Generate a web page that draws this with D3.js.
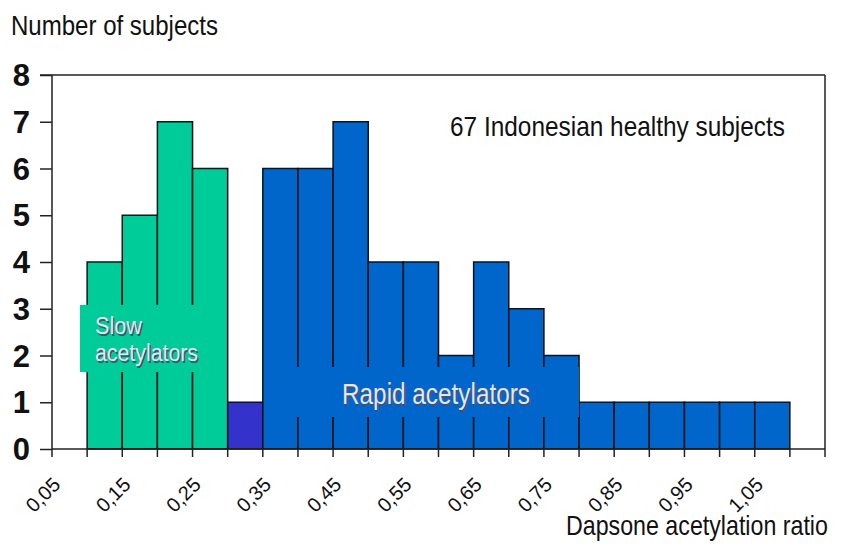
<!DOCTYPE html>
<html>
<head>
<meta charset="utf-8">
<script src="https://cdn.jsdelivr.net/npm/d3@7"></script>
<style>
  html, body { margin: 0; padding: 0; background: #fff; }
  svg { display: block; }
  text { font-family: "Liberation Sans", Arial, sans-serif; }
</style>
</head>
<body>
<svg id="chart" width="843" height="545"></svg>
<script>
// ---- data ----
const categories = ["0,05","0,10","0,15","0,20","0,25","0,30","0,35","0,40","0,45","0,50","0,55",
                    "0,60","0,65","0,70","0,75","0,80","0,85","0,90","0,95","1,00","1,05","1,10"];
const counts     = [0, 4, 5, 7, 6, 1, 6, 6, 7, 4, 4, 2, 4, 3, 2, 1, 1, 1, 1, 1, 1, 0];
const groups     = ["slow","slow","slow","slow","slow","mid","rapid","rapid","rapid","rapid","rapid",
                    "rapid","rapid","rapid","rapid","rapid","rapid","rapid","rapid","rapid","rapid","rapid"];
const tickLabels = ["0,05","0,15","0,25","0,35","0,45","0,55","0,65","0,75","0,85","0,95","1,05"];
const yTicks     = [0, 1, 2, 3, 4, 5, 6, 7, 8];
const groupColors = { slow: "#00CC99", mid: "#3333CC", rapid: "#0066CC" };

// ---- layout ----
const svg = d3.select("#chart");
const pLeft = 52, pRight = 825, pTop = 75, pBottom = 449;

const x = d3.scaleBand().domain(categories).range([pLeft, pRight]).padding(0);
const y = d3.scaleLinear().domain([0, 8]).range([pBottom, pTop]);

// bars
svg.append("g").selectAll("rect")
  .data(categories.map((c, i) => ({ c, v: counts[i], g: groups[i] })).filter(d => d.v > 0))
  .join("rect")
  .attr("x", d => x(d.c))
  .attr("y", d => y(d.v))
  .attr("width", x.bandwidth())
  .attr("height", d => y(0) - y(d.v))
  .attr("fill", d => groupColors[d.g])
  .attr("stroke", "#111")
  .attr("stroke-width", 1.5);

// label boxes (cover bar borders like the original text boxes)
function shadowText(g, str, tx, ty, size, len) {
  g.append("text").attr("x", tx + 1.5).attr("y", ty + 1.5)
    .attr("font-size", size).attr("fill", "#4a4f6a")
    .attr("textLength", len).attr("lengthAdjust", "spacingAndGlyphs").text(str);
  g.append("text").attr("x", tx).attr("y", ty)
    .attr("font-size", size).attr("fill", "#e2e6f2")
    .attr("textLength", len).attr("lengthAdjust", "spacingAndGlyphs").text(str);
}
const lab = svg.append("g");
lab.append("rect").attr("x", 80).attr("y", 305).attr("width", 136).attr("height", 67)
  .attr("fill", groupColors.slow);
shadowText(lab, "Slow", 95, 334, 23, 47);
shadowText(lab, "acetylators", 95, 361, 23, 103);

lab.append("rect").attr("x", 272).attr("y", 367).attr("width", 307).attr("height", 50)
  .attr("fill", groupColors.rapid);
shadowText(lab, "Rapid acetylators", 342, 404, 29, 188);

// frame: top and right border
svg.append("line").attr("x1", 40).attr("x2", pRight).attr("y1", pTop).attr("y2", pTop)
  .attr("stroke", "#222").attr("stroke-width", 1.5);
svg.append("line").attr("x1", pRight).attr("x2", pRight).attr("y1", pTop).attr("y2", pBottom)
  .attr("stroke", "#222").attr("stroke-width", 1.5);

// y axis
const yAxis = svg.append("g").attr("transform", `translate(${pLeft},0)`)
  .call(d3.axisLeft(y).tickValues(yTicks).tickSize(12).tickFormat(""));
yAxis.selectAll("path, line").attr("stroke", "#222").attr("stroke-width", 1.5);
yAxis.select(".domain").attr("d", `M0,${pTop}V${pBottom}`);
svg.append("g").selectAll("text").data(yTicks).join("text")
  .attr("x", 30).attr("y", d => y(d)).attr("dy", "0.36em")
  .attr("text-anchor", "end").attr("font-weight", "bold").attr("font-size", 31)
  .attr("fill", "#111").text(d => d);

// x axis: ticks at category boundaries
const boundaries = categories.map(c => x(c)).concat([pRight]);
const xAxisG = svg.append("g");
xAxisG.append("line").attr("x1", pLeft).attr("x2", pRight).attr("y1", pBottom).attr("y2", pBottom)
  .attr("stroke", "#222").attr("stroke-width", 1.5);
xAxisG.selectAll("line.tk").data(boundaries).join("line").attr("class", "tk")
  .attr("x1", d => d).attr("x2", d => d).attr("y1", pBottom).attr("y2", pBottom + 8)
  .attr("stroke", "#222").attr("stroke-width", 1.5);
xAxisG.selectAll("text").data(tickLabels).join("text")
  .attr("transform", d => `translate(${x(d) + x.bandwidth() / 2 - 8},${pBottom + 37}) rotate(-45)`)
  .attr("text-anchor", "end").attr("font-size", 20).attr("fill", "#111").text(d => d);

// titles
svg.append("text").attr("x", 11).attr("y", 35).attr("font-size", 28).attr("fill", "#111")
  .attr("textLength", 207).attr("lengthAdjust", "spacingAndGlyphs").text("Number of subjects");
svg.append("text").attr("transform", "translate(566,535) scale(0.86,1)")
  .attr("font-size", 27).attr("fill", "#111").text("Dapsone acetylation ratio");
svg.append("text").attr("x", 450).attr("y", 136).attr("font-size", 28).attr("fill", "#111")
  .attr("textLength", 335).attr("lengthAdjust", "spacingAndGlyphs").text("67 Indonesian healthy subjects");
</script>
</body>
</html>
